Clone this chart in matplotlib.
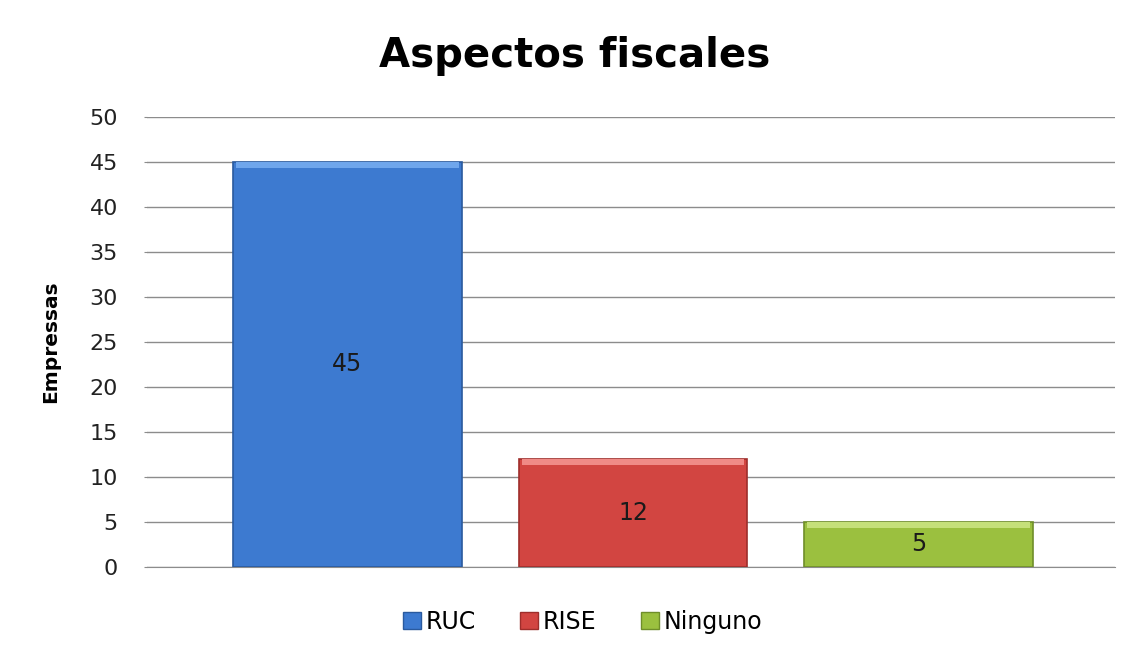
import matplotlib
matplotlib.use("Agg")
import matplotlib.pyplot as plt
import numpy as np

# datos del grafico
categorias = ["RUC", "RISE", "Ninguno"]
empresas = [45, 12, 5]
colores = ["#3D7AD0", "#D24541", "#9BC03F"]
bordes = ["#2A5A9E", "#9E2E2B", "#6F8E2A"]
claros = ["#6FA6EC", "#F08A86", "#C5E07A"]
yticks = [0, 5, 10, 15, 20, 25, 30, 35, 40, 45, 50]

plt.rcParams['font.family'] = ['DejaVu Sans']

fig = plt.figure(figsize=(11.29, 6.52), dpi=100)
ax = fig.add_axes([0.1302, 0.1304, 0.8574, 0.6902])

x = np.arange(len(categorias))
barras = ax.bar(x, empresas, width=0.80, color=colores, edgecolor=bordes,
                linewidth=1.2, zorder=3)
# brillo en la parte de arriba de cada barra
for i, v in enumerate(empresas):
    ax.bar(x[i], 0.7, bottom=v - 0.7, width=0.78, color=claros[i],
           linewidth=0, zorder=4)

for i, v in enumerate(empresas):
    ax.text(x[i], v / 2, str(v), ha='center', va='center', fontsize=17,
            color='#1a1a1a', zorder=5)

ax.set_ylim(0, 50)
ax.set_xlim(-0.702, 2.688)
ax.set_yticks(yticks)
ax.set_yticklabels([str(t) for t in yticks], fontsize=16, color='#222222')
ax.set_xticks([])
ax.yaxis.grid(True, color='#8c8c8c', linewidth=1.0, zorder=0)
for s in ['top', 'right', 'left']:
    ax.spines[s].set_visible(False)
ax.spines['bottom'].set_color('#8c8c8c')
ax.tick_params(axis='y', length=2, color='#8c8c8c', pad=19)
ax.set_ylabel("Empressas", fontsize=14.5, fontweight='bold')
ax.yaxis.set_label_coords(-0.0899, 0.5)

fig.text(0.509, 0.914, "Aspectos fiscales", ha='center', va='center',
         fontsize=29, fontweight='bold')

handles = [plt.Rectangle((0, 0), 1, 1, facecolor=colores[i], edgecolor=bordes[i])
           for i in range(len(categorias))]
fig.legend(handles, categorias, loc='center', bbox_to_anchor=(0.516, 0.046),
           ncol=3, frameon=False, fontsize=17, handlelength=0.75,
           handleheight=0.75, handletextpad=0.2, columnspacing=1.9)

fig.savefig("out.png", dpi=100, facecolor='white')
